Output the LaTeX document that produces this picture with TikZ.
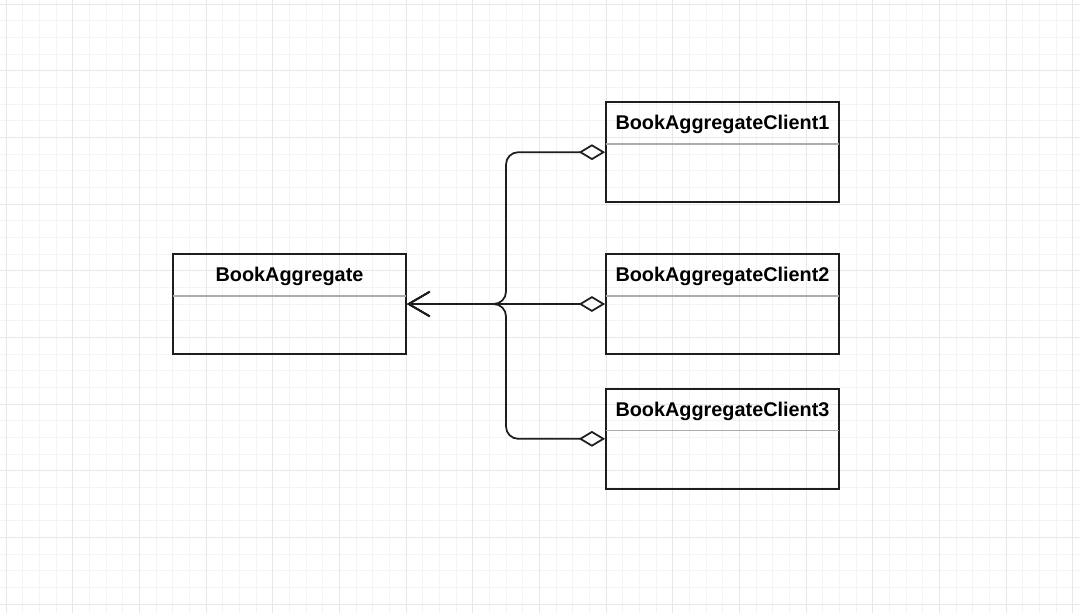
\documentclass[tikz,border=0pt]{standalone}
\usepackage{fontspec}
\setmainfont{Liberation Sans}
\usetikzlibrary{positioning,arrows.meta}

\definecolor{gridminor}{HTML}{F4F4F4}
\definecolor{gridmajor}{HTML}{E8E8E8}
\definecolor{ink}{HTML}{1E1E1E}

\begin{document}
\begin{tikzpicture}[%
x=0.02cm,
y=-0.02cm,
box/.style={
draw=ink,
line width=1.05pt,
minimum width=4.66cm,
minimum height=2cm,
inner sep=0pt,},
head/.style={
minimum width=4.66cm,
minimum height=0.84cm,
inner sep=0pt,
text depth=0.5pt,
font=\fontsize{11.3}{13}\selectfont\bfseries,},
divider/.style={
draw=gray!65,
line width=0.9pt,},
agg/.style={
{Diamond[open,length=15pt,width=9pt]}-{Straight Barb[length=12pt,width=14pt]},
draw=ink,
line width=1pt,
rounded corners=7pt,}
]
\fill[white] (0,0) rectangle (1080,613);
\useasboundingbox (0,0) rectangle (1080,613);
% grid
\foreach \k in {0,...,64}
  \draw[gridminor,line width=0.5pt] (6+16.667*\k,0) -- (6+16.667*\k,613);
\foreach \k in {0,...,36}
  \draw[gridminor,line width=0.5pt] (0,4+16.667*\k) -- (1080,4+16.667*\k);
\foreach \k in {0,...,16}
  \draw[gridmajor,line width=0.55pt] (6+66.667*\k,0) -- (6+66.667*\k,613);
\foreach \k in {0,...,9}
  \draw[gridmajor,line width=0.55pt] (0,4+66.667*\k) -- (1080,4+66.667*\k);

\node[box] (ba) at (289.5,304) {};
\node[box] (c2) at (722.5,304) {};
\node[box] [above=1cm of c2] (c1) {};
\node[box] [below=0.66cm of c2] (c3) {};

\node[head] [below=0pt of ba.north] (ba-h) {BookAggregate};
\node[head] [below=0pt of c1.north] (c1-h) {BookAggregateClient1};
\node[head] [below=0pt of c2.north] (c2-h) {BookAggregateClient2};
\node[head] [below=0pt of c3.north] (c3-h) {BookAggregateClient3};
\foreach \n in {ba,c1,c2,c3}
  \draw[divider] (\n-h.south west) -- (\n-h.south east);

\coordinate (j) at (506,304);
\draw[agg] (c1.west) -| (j) -- (ba.east);
\draw[agg] (c2.west) -- (ba.east);
\draw[agg] (c3.west) -| (j) -- (ba.east);
\end{tikzpicture}
\end{document}
